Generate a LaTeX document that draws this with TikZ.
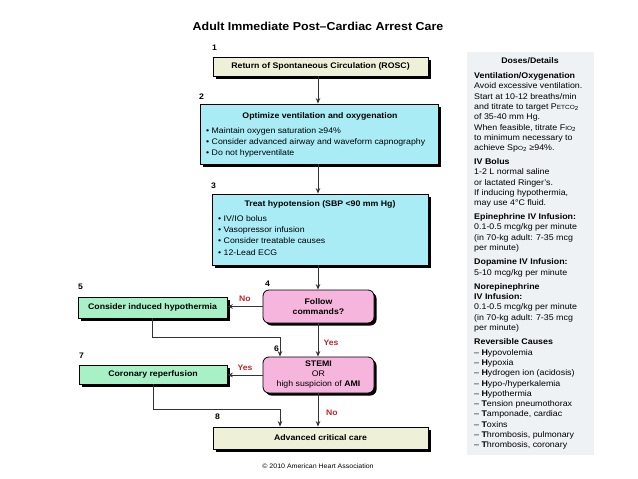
\documentclass[tikz,border=0pt]{standalone}
\usepackage{fontspec}
\setmainfont[FakeStretch=1.08]{Liberation Sans}
\usetikzlibrary{arrows.meta,shadows}
\definecolor{beigebox}{HTML}{EEF0D8}
\definecolor{cyanbox}{HTML}{A9ECF6}
\definecolor{pinkbox}{HTML}{F6B5DC}
\definecolor{greenbox}{HTML}{A8F0C6}
\definecolor{panelbg}{HTML}{EEF2F5}
\definecolor{labelred}{HTML}{C0272D}
\definecolor{connc}{HTML}{333333}
\tikzset{
  box/.style={draw=black, line width=0.8pt, inner sep=0pt, anchor=center,
    drop shadow={shadow xshift=2.5pt, shadow yshift=-2.5pt, fill=black, opacity=1}},
  rbox/.style={box, rounded corners=6pt},
  txt/.style={inner sep=0pt, font=\fontsize{8.1}{10}\selectfont},
  btxt/.style={inner sep=0pt, font=\bfseries\fontsize{8.1}{10}\selectfont},
  num/.style={inner sep=0pt, anchor=west, font=\bfseries\fontsize{8}{10}\selectfont},
  conn/.style={draw=connc, line width=0.9pt, -{Stealth[length=5.5pt,width=4.5pt]}},
  lab/.style={inner sep=0pt, text=labelred, font=\bfseries\fontsize{8}{10}\selectfont},
}
\begin{document}
\begin{tikzpicture}[x=1pt,y=-1pt]
\useasboundingbox[fill=white] (0,0) rectangle (638,479);
% title
\node[inner sep=0pt, font=\bfseries\fontsize{11.5}{13}\selectfont] (title) at (318,26) {Adult Immediate Post–Cardiac Arrest Care};
% right panel
\fill[panelbg] (467,52) rectangle (594,455);
\node[btxt] (ptitle) at (530,61) {Doses/Details};
\node[inner sep=0pt, anchor=north west, align=left, font=\fontsize{8.2}{10.3}\selectfont] (panel) at (474,72.5) {%
\textbf{Ventilation/Oxygenation}\\
Avoid excessive ventilation.\\
Start at 10-12 breaths/min\\
and titrate to target P{\fontsize{6}{6}\selectfont ETCO}\textsubscript{2}\\
of 35-40 mm Hg.\\
When feasible, titrate F{\fontsize{6}{6}\selectfont IO}\textsubscript{2}\\
to minimum necessary to\\
achieve Sp{\fontsize{6}{6}\selectfont O}\textsubscript{2} ≥94\%.\\[3.5pt]
\textbf{IV Bolus}\\
1-2 L normal saline\\
or lactated Ringer's.\\
If inducing hypothermia,\\
may use 4°C fluid.\\[3.5pt]
\textbf{Epinephrine IV Infusion:}\\
0.1-0.5 mcg/kg per minute\\
(in 70-kg adult: 7-35 mcg\\
per minute)\\[4pt]
\textbf{Dopamine IV Infusion:}\\
5-10 mcg/kg per minute\\[4pt]
\textbf{Norepinephrine}\\
\textbf{IV Infusion:}\\
0.1-0.5 mcg/kg per minute\\
(in 70-kg adult: 7-35 mcg\\
per minute)\\[4pt]
\textbf{Reversible Causes}\\
– \textbf{H}ypovolemia\\
– \textbf{H}ypoxia\\
– \textbf{H}ydrogen ion (acidosis)\\
– \textbf{H}ypo-/hyperkalemia\\
– \textbf{H}ypothermia\\
– \textbf{T}ension pneumothorax\\
– \textbf{T}amponade, cardiac\\
– \textbf{T}oxins\\
– \textbf{T}hrombosis, pulmonary\\
– \textbf{T}hrombosis, coronary};
% boxes
\node[box, fill=beigebox, minimum width=215pt, minimum height=19pt] (b1) at (320.5,66.5) {};
\node[btxt] (t1) at (b1.center) {Return of Spontaneous Circulation (ROSC)};
\node[num] (n1) at (212,48) {1};

\node[box, fill=cyanbox, minimum width=238pt, minimum height=60pt] (b2) at (319,134) {};
\node[btxt] (t2) at (320,116) {Optimize ventilation and oxygenation};
\node[txt, anchor=north west, align=left, font=\fontsize{8.1}{11}\selectfont] (l2) at (206,127) {• Maintain oxygen saturation ≥94\%\\• Consider advanced airway and waveform capnography\\• Do not hyperventilate};
\node[num] (n2) at (199,97) {2};

\node[box, fill=cyanbox, minimum width=216pt, minimum height=71pt] (b3) at (320,229.5) {};
\node[btxt] (t3) at (320,204) {Treat hypotension (SBP <90 mm Hg)};
\node[txt, anchor=north west, align=left, font=\fontsize{8.1}{11.4}\selectfont] (l3) at (218,215) {• IV/IO bolus\\• Vasopressor infusion\\• Consider treatable causes\\• 12-Lead ECG};
\node[num] (n3) at (211,186) {3};

\node[rbox, fill=pinkbox, minimum width=111pt, minimum height=33pt] (b4) at (318.5,306.5) {};
\node[btxt, align=center] (t4) at (b4.center) {Follow\\commands?};
\node[num] (n4) at (265,284) {4};

\node[box, fill=greenbox, minimum width=149pt, minimum height=21pt] (b5) at (152.5,307.5) {};
\node[btxt] (t5) at (b5.center) {Consider induced hypothermia};
\node[num] (n5) at (78,287) {5};

\node[rbox, fill=pinkbox, minimum width=111pt, minimum height=36pt] (b6) at (318.5,375) {};
\node[txt, align=center] (t6) at (b6.center) {\textbf{STEMI}\\OR\\high suspicion of \textbf{AMI}};
\node[num] (n6) at (274,349) {6};

\node[box, fill=greenbox, minimum width=148pt, minimum height=19pt] (b7) at (153,374.5) {};
\node[btxt] (t7) at (b7.center) {Coronary reperfusion};
\node[num] (n7) at (79,356) {7};

\node[box, fill=beigebox, minimum width=215pt, minimum height=22pt] (b8) at (320.5,438) {};
\node[btxt] (t8) at (b8.center) {Advanced critical care};
\node[num] (n8) at (215,417) {8};

% connectors
\draw[conn] (b1.south -| 318,0) -- (b2.north -| 318,0);
\draw[conn] (b2.south -| 318,0) -- (b3.north -| 318,0);
\draw[conn] (b3.south -| 318,0) -- (b4.north -| 318,0);
\draw[conn] (b4.west) -- (b5.east |- b4.west);
\node[lab] (no1) at (245,299) {No};
\draw[conn] (b4.south -| 318,0) -- (b6.north -| 318,0);
\node[lab] (yes1) at (331,343) {Yes};
\coordinate (j5) at (280,337);
\draw[conn] (b5.south) |- (j5) -- (j5 |- b6.north);
\draw[conn] (b6.west) -- (b7.east |- b6.west);
\node[lab] (yes2) at (245,368) {Yes};
\draw[conn] (b6.south -| 318,0) -- (b8.north -| 318,0);
\node[lab] (no2) at (332,413) {No};
\coordinate (j7) at (280,409);
\draw[conn] (b7.south) |- (j7) -- (j7 |- b8.north);
% copyright
\node[inner sep=0pt, font=\fontsize{6.5}{8}\selectfont] (copy) at (318,466) {© 2010 American Heart Association};
\end{tikzpicture}
\end{document}
